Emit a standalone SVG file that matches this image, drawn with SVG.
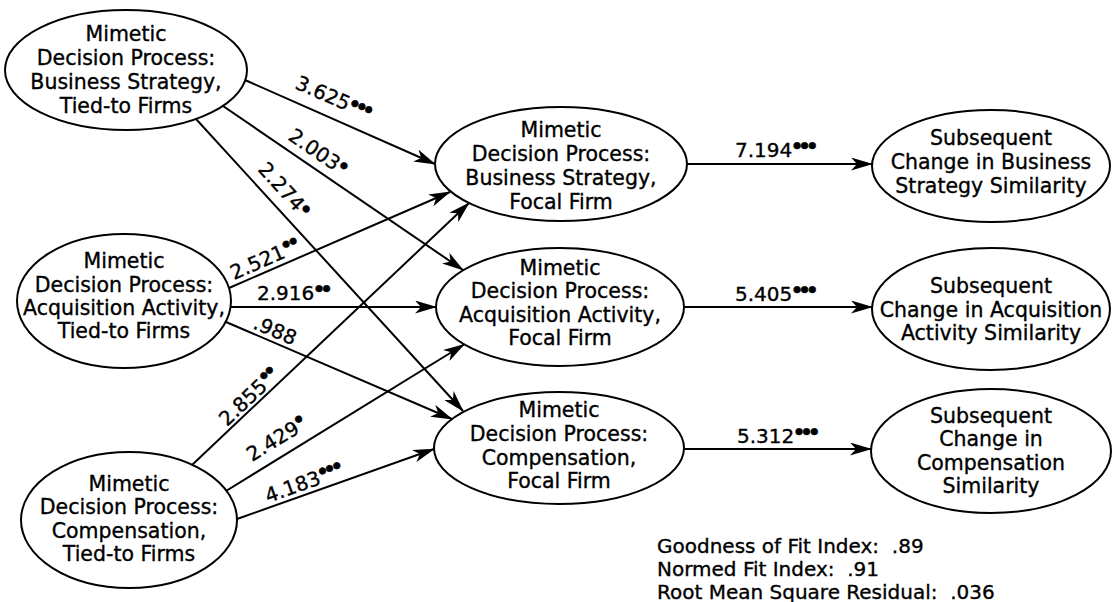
<svg xmlns="http://www.w3.org/2000/svg" width="1114" height="602" viewBox="0 0 1114 602">
<defs>
<marker id="ah" markerUnits="userSpaceOnUse" viewBox="0 0 22 13" refX="21" refY="6.5" markerWidth="22" markerHeight="13" orient="auto">
<path d="M0,0 L22,6.5 L0,13 L6,6.5 Z" fill="#000"/>
</marker>
<style>
.node ellipse{fill:#fff;stroke:#000;stroke-width:2}
.node text{font-family:"DejaVu Sans","Liberation Sans",sans-serif;font-size:20.5px;text-anchor:middle;fill:#000;stroke:#000;stroke-width:0.35}
.edge{stroke:#000;stroke-width:2;fill:none;marker-end:url(#ah)}
.lbl{font-family:"DejaVu Sans","Liberation Sans",sans-serif;font-size:20px;fill:#000;stroke:#000;stroke-width:0.35}
.sup{font-size:23px;letter-spacing:-6px;stroke-width:0.6}
.fit{font-family:"DejaVu Sans","Liberation Sans",sans-serif;font-size:20px;fill:#000;stroke:#000;stroke-width:0.35}
</style>
</defs>
<rect width="1114" height="602" fill="#fff"/>

<g id="tl" class="node">
<ellipse cx="126" cy="70" rx="121" ry="60"/>
<text><tspan x="126" y="41">Mimetic</tspan><tspan x="126" y="65">Decision Process:</tspan><tspan x="126" y="89">Business Strategy,</tspan><tspan x="126" y="113">Tied-to Firms</tspan></text>
</g>
<g id="ml" class="node">
<ellipse cx="124" cy="301" rx="107" ry="67"/>
<text><tspan x="124" y="268">Mimetic</tspan><tspan x="124" y="291.5">Decision Process:</tspan><tspan x="124" y="315">Acquisition Activity,</tspan><tspan x="124" y="338">Tied-to Firms</tspan></text>
</g>
<g id="bl" class="node">
<ellipse cx="129" cy="520" rx="108" ry="68"/>
<text><tspan x="129" y="491">Mimetic</tspan><tspan x="129" y="514">Decision Process:</tspan><tspan x="129" y="538">Compensation,</tspan><tspan x="129" y="561">Tied-to Firms</tspan></text>
</g>
<g id="tm" class="node">
<ellipse cx="561" cy="164" rx="126" ry="57"/>
<text><tspan x="561" y="137">Mimetic</tspan><tspan x="561" y="161">Decision Process:</tspan><tspan x="561" y="185">Business Strategy,</tspan><tspan x="561" y="209">Focal Firm</tspan></text>
</g>
<g id="mm" class="node">
<ellipse cx="560" cy="307" rx="124" ry="59"/>
<text><tspan x="560" y="275">Mimetic</tspan><tspan x="560" y="298">Decision Process:</tspan><tspan x="560" y="322">Acquisition Activity,</tspan><tspan x="560" y="345">Focal Firm</tspan></text>
</g>
<g id="bm" class="node">
<ellipse cx="559" cy="448" rx="125" ry="56"/>
<text><tspan x="559" y="417">Mimetic</tspan><tspan x="559" y="441">Decision Process:</tspan><tspan x="559" y="465">Compensation,</tspan><tspan x="559" y="488">Focal Firm</tspan></text>
</g>
<g id="tr" class="node">
<ellipse cx="991" cy="166" rx="119" ry="56"/>
<text><tspan x="991" y="145">Subsequent</tspan><tspan x="991" y="169">Change in Business</tspan><tspan x="991" y="193">Strategy Similarity</tspan></text>
</g>
<g id="mr" class="node">
<ellipse cx="991" cy="309" rx="119" ry="61"/>
<text><tspan x="991" y="293">Subsequent</tspan><tspan x="991" y="317">Change in Acquisition</tspan><tspan x="991" y="340">Activity Similarity</tspan></text>
</g>
<g id="br" class="node">
<ellipse cx="991" cy="451" rx="120" ry="62"/>
<text><tspan x="991" y="423">Subsequent</tspan><tspan x="991" y="446">Change in</tspan><tspan x="991" y="470">Compensation</tspan><tspan x="991" y="493">Similarity</tspan></text>
</g>

<g id="connectors">
<line class="edge" x1="245" y1="80" x2="435" y2="164"/>
<line class="edge" x1="223" y1="106" x2="463" y2="270"/>
<line class="edge" x1="196" y1="119" x2="463" y2="411"/>
<line class="edge" x1="229" y1="288" x2="450" y2="192"/>
<line class="edge" x1="231" y1="307" x2="436" y2="307"/>
<line class="edge" x1="226" y1="322" x2="452" y2="419"/>
<line class="edge" x1="192" y1="465" x2="469" y2="203"/>
<line class="edge" x1="226" y1="491" x2="464" y2="344.5"/>
<line class="edge" x1="237" y1="519" x2="434" y2="449"/>
<line class="edge" x1="687" y1="164" x2="872" y2="164"/>
<line class="edge" x1="684" y1="307" x2="872" y2="307"/>
<line class="edge" x1="684" y1="449" x2="871" y2="449"/>

<text class="lbl" transform="translate(294 88) rotate(23.6)">3.625<tspan class="sup" dx="-2" dy="-1.5">•••</tspan></text>
<text class="lbl" transform="translate(287 139) rotate(34.3)">2.003<tspan class="sup" dx="-2" dy="-1.5">•</tspan></text>
<text class="lbl" transform="translate(257 170) rotate(47.6)">2.274<tspan class="sup" dx="-2" dy="-1.5">•</tspan></text>
<text class="lbl" transform="translate(234 280) rotate(-23.5)">2.521<tspan class="sup" dx="-2" dy="-3.5">••</tspan></text>
<text class="lbl" x="257" y="300">2.916<tspan class="sup" dx="-2" dy="-3.5">••</tspan></text>
<text class="lbl" transform="translate(252 328) rotate(23.2)">.988</text>
<text class="lbl" transform="translate(227 427) rotate(-43.4)">2.855<tspan class="sup" dx="-2" dy="-3.5">••</tspan></text>
<text class="lbl" transform="translate(252 462) rotate(-31.6)">2.429<tspan class="sup" dx="-2" dy="-3.5">•</tspan></text>
<text class="lbl" transform="translate(268 503) rotate(-19.6)">4.183<tspan class="sup" dx="-2" dy="-3.5">•••</tspan></text>
<text class="lbl" x="735" y="157">7.194<tspan class="sup" dx="-2" dy="-3.5">•••</tspan></text>
<text class="lbl" x="735" y="301">5.405<tspan class="sup" dx="-2" dy="-3.5">•••</tspan></text>
<text class="lbl" x="737" y="443">5.312<tspan class="sup" dx="-2" dy="-3.5">•••</tspan></text>
</g>

<g id="fit">
<text class="fit" xml:space="preserve" x="657" y="553">Goodness of Fit Index:  .89</text>
<text class="fit" xml:space="preserve" x="657" y="576">Normed Fit Index:  .91</text>
<text class="fit" xml:space="preserve" x="657" y="599">Root Mean Square Residual:  .036</text>
</g>
</svg>
